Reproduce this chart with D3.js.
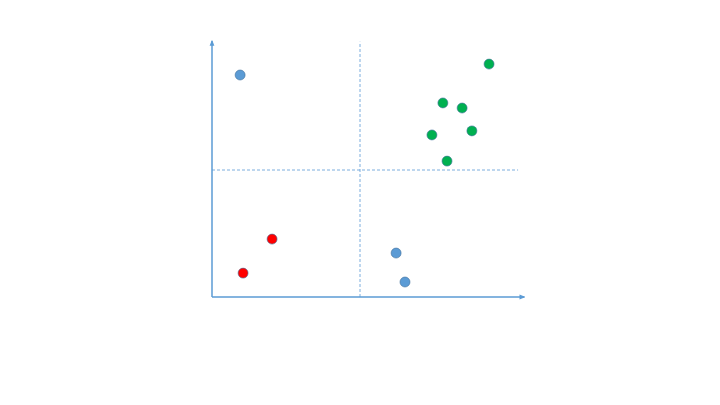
<!DOCTYPE html>
<html>
<head>
<meta charset="utf-8">
<script src="https://cdn.jsdelivr.net/npm/d3@7"></script>
<style>
  body { margin: 0; background: #fff; }
</style>
</head>
<body>
<div id="chart"></div>
<script>
// values (0-100 on both axes)
const blueX = [9.5, 62.2, 65.2];
const blueY = [87.4, 17.3, 5.9];
const redX = [20.3, 10.5];
const redY = [22.8, 9.4];
const greenX = [93.6, 78.0, 84.5, 74.3, 87.8, 79.4];
const greenY = [91.7, 76.4, 74.4, 63.8, 65.4, 53.5];

const groups = [
  { xs: blueX, ys: blueY, fill: "#5b9bd5" },
  { xs: redX, ys: redY, fill: "#ff0000" },
  { xs: greenX, ys: greenY, fill: "#00b050" }
];

const svg = d3.select("#chart")
  .append("svg")
  .attr("width", 720)
  .attr("height", 405);

const x = d3.scaleLinear().domain([0, 100]).range([212, 508]);
const y = d3.scaleLinear().domain([0, 100]).range([297, 43]);

const axisColor = "#5b9bd5";

svg.append("defs").append("marker")
  .attr("id", "arrow")
  .attr("viewBox", "0 0 10 10")
  .attr("refX", 8).attr("refY", 5)
  .attr("markerWidth", 4).attr("markerHeight", 4)
  .attr("orient", "auto")
  .append("path")
  .attr("d", "M0,1 L10,5 L0,9 Z")
  .attr("fill", axisColor);

// quadrant dividers
svg.append("line")
  .attr("x1", x(50)).attr("x2", x(50))
  .attr("y1", y(0)).attr("y2", y(100.5))
  .attr("stroke", axisColor)
  .attr("stroke-width", 0.8)
  .attr("stroke-dasharray", "3,2");

svg.append("line")
  .attr("x1", x(0)).attr("x2", x(103.4))
  .attr("y1", y(50)).attr("y2", y(50))
  .attr("stroke", axisColor)
  .attr("stroke-width", 0.8)
  .attr("stroke-dasharray", "3,2");

// axes
svg.append("line")
  .attr("x1", x(0)).attr("x2", x(105.5))
  .attr("y1", y(0)).attr("y2", y(0))
  .attr("stroke", axisColor)
  .attr("stroke-width", 1.5)
  .attr("marker-end", "url(#arrow)");

svg.append("line")
  .attr("x1", x(0)).attr("x2", x(0))
  .attr("y1", y(0)).attr("y2", y(100.8))
  .attr("stroke", axisColor)
  .attr("stroke-width", 1.5)
  .attr("marker-end", "url(#arrow)");

groups.forEach(g => {
  svg.append("g")
    .selectAll("circle")
    .data(g.xs.map((v, i) => [v, g.ys[i]]))
    .join("circle")
    .attr("cx", d => x(d[0]))
    .attr("cy", d => y(d[1]))
    .attr("r", 5)
    .attr("fill", g.fill)
    .attr("stroke", "#41719c")
    .attr("stroke-width", 0.6);
});
</script>
</body>
</html>
